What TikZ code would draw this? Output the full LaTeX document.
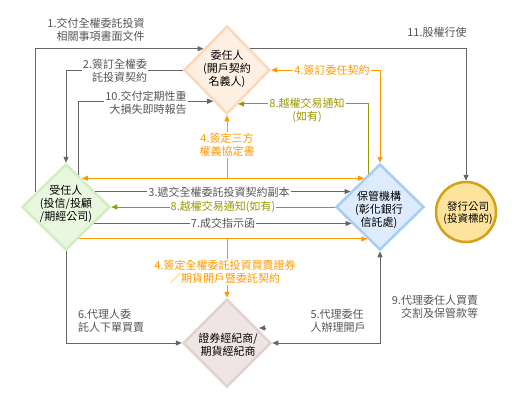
\documentclass[tikz,border=0pt]{standalone}
\usepackage{fontspec}
\setmainfont{Noto Sans CJK TC}
\usetikzlibrary{shapes.geometric,arrows.meta,calc}
\definecolor{lgray}{HTML}{666666}
\definecolor{tgray}{HTML}{555555}
\definecolor{orng}{HTML}{FF9900}
\definecolor{olv}{HTML}{999900}
\definecolor{pfill}{HTML}{FEEFE3}
\definecolor{pline}{HTML}{FBD8BB}
\definecolor{afill}{HTML}{E9F7E0}
\definecolor{aline}{HTML}{D0EEBE}
\definecolor{cfill}{HTML}{DDEBFC}
\definecolor{cline}{HTML}{A6CEF5}
\definecolor{bfill}{HTML}{F0E5E5}
\definecolor{bline}{HTML}{E2D3D3}
\definecolor{ifill}{HTML}{FDE49D}
\definecolor{iline}{HTML}{D4A017}
\tikzset{
  dia/.style={diamond, line width=2.5pt, inner sep=0pt},
  ntext/.style={align=center, inner sep=0pt, text=black},
  gl/.style={draw=lgray, line width=1pt},
  ol/.style={draw=orng, line width=1pt},
  vl/.style={draw=olv, line width=1pt},
  glab/.style={fill=white, inner sep=1pt, align=center, text=tgray},
  olab/.style={fill=white, inner sep=1pt, align=center, text=orng},
  vlab/.style={fill=white, inner sep=1pt, align=center, text=olv},
}
\begin{document}
\begin{tikzpicture}[x=1pt,y=-1pt,>={Triangle[length=6pt,width=5pt]},font=\fontsize{11}{13}\selectfont]
\useasboundingbox[fill=white] (0,0) rectangle (520,400);
% nodes
\node[dia, fill=pfill, draw=pline, minimum width=86pt, minimum height=88pt] (P) at (227,70) {};
\node[ntext] (Pt) at (227,69) {委任人\\(開戶契約\\名義人)};
\node[dia, fill=afill, draw=aline, minimum width=88pt, minimum height=86pt] (A) at (66,207) {};
\node[ntext] (At) at (66,204) {受任人\\(投信/投顧\\/期經公司)};
\node[dia, fill=cfill, draw=cline, minimum width=88pt, minimum height=86pt] (C) at (380,207) {};
\node[ntext] (Ct) at (379,210) {保管機構\\(彰化銀行\\信託處)};
\node[dia, fill=bfill, draw=bline, minimum width=88pt, minimum height=88pt] (B) at (227,343) {};
\node[ntext] (Bt) at (228,345) {證券經紀商/\\期貨經紀商};
\node[circle, fill=ifill, draw=iline, line width=2.5pt, minimum size=60pt, inner sep=0pt] (I) at (466,212) {};
\node[ntext, font=\fontsize{10.5}{12}\selectfont] (It) at (468,213) {發行公司\\(投資標的)};
% connector points
\coordinate (a1) at ($(A.west)!0.333!(A.north)$);
\coordinate (p1) at ($(P.west)!0.47!(P.north)$);
\coordinate (p11) at ($(P.north)!0.53!(P.east)$);
\coordinate (a10) at ($(A.north)!0.267!(A.east)$);
\coordinate (p10) at ($(P.west)!0.689!(P.south)$);
\coordinate (c8) at ($(C.north)!0.25!(C.west)$);
\coordinate (p8) at ($(P.east)!0.75!(P.south)$);
\coordinate (a4) at ($(A.north)!0.35!(A.east)$);
\coordinate (c4) at ($(C.north)!0.35!(C.west)$);
\coordinate (a3) at ($(A.north)!0.651!(A.east)$);
\coordinate (c3) at ($(C.north)!0.651!(C.west)$);
\coordinate (a7) at ($(A.east)!0.372!(A.south)$);
\coordinate (c7) at ($(C.west)!0.372!(C.south)$);
\coordinate (a4b) at ($(A.east)!0.721!(A.south)$);
\coordinate (c4b) at ($(C.west)!0.721!(C.south)$);
\coordinate (s9a) at (265,328);
\coordinate (s9b) at (259,328);
% connectors
\draw[gl,->] (a1) |- (p1);
\draw[gl,->] (P.west) -| (A.north);
\draw[gl,->] (a10) |- (p10);
\draw[gl,->] (p11) -| (I.north);
\draw[ol,<->] (P.east) -| (C.north);
\draw[vl,->] (c8) |- (p8);
\draw[ol,<->] (a4) -- (c4);
\draw[ol,<-] (P.south) -- (P.south |- a4);
\draw[gl,->] (a3) -- (c3);
\draw[vl,->] (C.west) -- (A.east);
\draw[gl,->] (a7) -- (c7);
\draw[ol,->] (a4b) -- (c4b);
\draw[ol,->] (B.north |- a4b) -- (B.north);
\draw[gl,->] (A.south) |- (B.west);
\draw[gl,<->] (C.south) |- (B.east);
\draw[gl,->] (s9a) -- (s9b);
% labels
\node[glab, align=right] (L1) at (96,30) {1.交付全權委託投資\\相關事項書面文件};
\node[glab, align=right] (L2) at (115,70.5) {2.簽訂全權委\\託投資契約};
\node[glab, align=right] (L10) at (146,103) {10.交付定期性重\\大損失即時報告};
\node[glab] (L11) at (437,32) {11.股權行使};
\node[olab] (L4a) at (332,70) {4.簽訂委任契約};
\node[vlab] (L8a) at (307,110) {8.越權交易通知\\(如有)};
\node[olab] (L4b) at (227,145) {4.簽定三方\\權義協定書};
\node[glab] (L3) at (219,192) {3.遞交全權委託投資契約副本};
\node[vlab] (L8b) at (223,207) {8.越權交易通知(如有)};
\node[glab] (L7) at (223,223) {7.成交指示函};
\node[olab] (L4c) at (225,272) {4.簽定全權委託投資買賣證券\\／期貨開戶暨委託契約};
\node[glab, align=left] (L6) at (111,320.5) {6.代理人委\\託人下單買賣};
\node[glab, align=left] (L5) at (338,320.5) {5.代理委任\\人辦理開戶};
\node[glab, align=right] (L9) at (435,306.5) {9.代理委任人買賣\\交割及保管款等};
\end{tikzpicture}
\end{document}
